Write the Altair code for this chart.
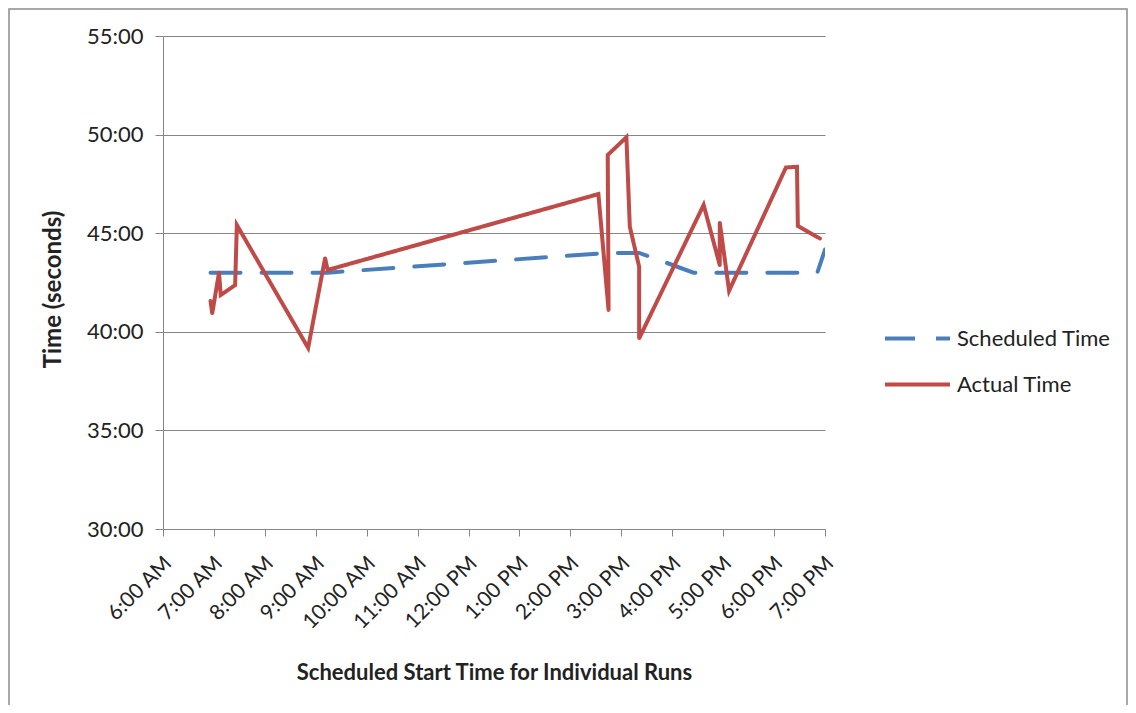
import altair as alt
import pandas as pd

# Actual runs (in drawing order)
actual_start = ["6:56 AM", "6:58 AM", "7:06 AM", "7:08 AM", "7:25 AM", "7:27 AM",
                "8:51 AM", "9:11 AM", "9:14 AM", "2:33 PM", "2:45 PM", "2:44 PM",
                "3:06 PM", "3:10 PM", "3:21 PM", "3:21 PM", "4:37 PM", "4:56 PM",
                "4:56 PM", "5:07 PM", "6:14 PM", "6:27 PM", "6:28 PM", "6:54 PM"]
actual_time = ["41:34", "40:56", "43:00", "41:52", "42:22", "45:25",
               "39:11", "43:44", "43:08", "46:59", "41:06", "48:58",
               "49:52", "45:20", "43:18", "39:40", "46:26", "43:23",
               "45:32", "42:05", "48:20", "48:22", "45:22", "44:44"]

# Scheduled times
sched_start = ["6:56 AM", "9:14 AM", "2:44 PM", "3:21 PM", "3:32 PM", "4:25 PM",
               "6:51 PM", "7:00 PM"]
sched_time = ["43:00", "43:00", "44:00", "44:00", "43:50", "43:00",
              "43:00", "44:10"]

series_names = ["Scheduled Time", "Actual Time"]
series_colors = ["#4a7ebb", "#be4b48"]
y_ticks = [30, 35, 40, 45, 50, 55]
x_ticks = list(range(6, 20))


def to_hours(s):
    t, ap = s.split()
    h, m = map(int, t.split(":"))
    if ap == "PM" and h != 12:
        h += 12
    if ap == "AM" and h == 12:
        h = 0
    return h + m / 60.0


def to_min(s):
    m, sec = s.split(":")
    return int(m) + int(sec) / 60.0


rows = []
for i, (s, t) in enumerate(zip(sched_start, sched_time)):
    rows.append({"start": to_hours(s), "dur": to_min(t), "series": series_names[0], "idx": i})
for i, (s, t) in enumerate(zip(actual_start, actual_time)):
    rows.append({"start": to_hours(s), "dur": to_min(t), "series": series_names[1], "idx": i})
df = pd.DataFrame(rows)

W, H = 662, 493
PAD = {"left": 155, "top": 28, "right": 303, "bottom": 176}

x_label_expr = ("(datum.value % 12 == 0 ? 12 : datum.value % 12) + ':00 ' + "
                "(datum.value < 12 ? 'AM' : 'PM')")

lines = alt.Chart(df).mark_line(strokeWidth=4, strokeCap="round", strokeJoin="miter", clip=True).encode(
    x=alt.X("start:Q",
            scale=alt.Scale(domain=[6, 19], nice=False, zero=False),
            axis=alt.Axis(values=x_ticks, labelExpr=x_label_expr, labelAngle=-45,
                          labelAlign="right", labelBaseline="middle",
                          labelFontSize=21, labelPadding=24, labelOffset=5, labelColor="#222222",
                          labelOverlap=False, labelBound=False,
                          grid=False, tickSize=7, tickColor="#868686",
                          domainColor="#868686", title="Scheduled Start Time for Individual Runs",
                          titleFontSize=22, titleFontWeight="bold", titleColor="#222222",
                          titleY=143, titleBaseline="middle", titleX=W / 2)),
    y=alt.Y("dur:Q",
            scale=alt.Scale(domain=[30, 55], nice=False, zero=False),
            axis=alt.Axis(values=y_ticks, labelExpr="datum.value + ':00'",
                          labelFontSize=22, labelPadding=12, labelColor="#222222",
                          grid=True, gridColor="#868686", gridWidth=1,
                          tickSize=8, tickColor="#868686", domainColor="#868686",
                          title="Time (seconds)", titleFontSize=24, titleFontWeight="bold",
                          titleColor="#222222", titleX=-110, titleY=253,
                          titleAlign="center", titleBaseline="middle")),
    color=alt.Color("series:N",
                    scale=alt.Scale(domain=series_names, range=series_colors),
                    legend=alt.Legend(orient="none", legendX=720, legendY=268, title=None,
                                      symbolType="stroke", symbolSize=4225,
                                      symbolStrokeWidth=4, labelFontSize=22,
                                      labelColor="#222222", labelOffset=5,
                                      rowPadding=-16)),
    strokeDash=alt.StrokeDash("series:N",
                              scale=alt.Scale(domain=series_names, range=[[30, 21], [1, 0]]),
                              legend=None),
    order=alt.Order("idx:Q"),
    detail="series:N",
)

frame = alt.Chart(alt.Data(values=[{"k": 1}])).mark_rect(
    fill=None, stroke="#8c8c8c", strokeWidth=1.5
).encode(
    x=alt.value(-154), x2=alt.value(W + PAD["right"] - 1),
    y=alt.value(-27), y2=alt.value(H + 300),
)

chart = alt.layer(frame, lines).properties(
    width=W, height=H,
    autosize=alt.AutoSizeParams(type="none"),
    padding=PAD,
).configure(font="Lato").configure_view(stroke=None)

chart.save("out.html", embed_options={"renderer": "svg", "actions": False})
